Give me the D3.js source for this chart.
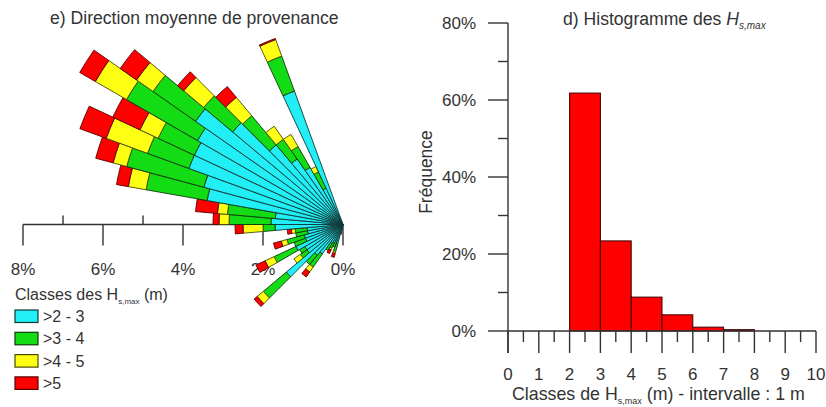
<!DOCTYPE html>
<html><head><meta charset="utf-8">
<script src="https://cdn.jsdelivr.net/npm/d3@7"></script>
<style>
body{margin:0;background:#fff}
text{font-family:"Liberation Sans",Arial,sans-serif;fill:#333}
</style>
</head><body>
<svg id="c" width="826" height="407"></svg>
<script>
// ---------- DATA ----------
const classLabels = [">2 - 3", ">3 - 4", ">4 - 5", ">5"];
// compass direction (deg, centre of 5° sector) of origin
const directions = [192.5,197.5,202.5,207.5,212.5,217.5,222.5,227.5,232.5,237.5,
                    242.5,247.5,252.5,257.5,262.5,267.5,272.5,277.5,282.5,287.5,
                    292.5,297.5,302.5,307.5,312.5,317.5,322.5,327.5,332.5,337.5];
// frequency (%) per class and direction
const cyanVals   = [0.25,0.5,0.45,0.5,0.55,0.9,1.0,1.85,1.1,1.1, 1.3,1.0,1.0,0.9,0.9,1.7,1.8,1.7,3.45,3.6, 4.1,4.1,4.2,4.5,3.6,2.6,2.0,1.65,1.0,3.55];
const greenVals  = [0,0.2,0.15,0.15,0.2,0.4,0.3,0.75,0.2,0.15, 0.6,0.3,0.45,0.3,0.3,0.3,1.05,1.2,1.55,2.0, 1.1,1.0,2.05,1.3,0.95,0.95,0.6,0.6,0.45,0.93];
const yellowVals = [0,0.05,0,0.05,0,0.15,0,0.2,0.2,0, 0.25,0,0.15,0,0.1,0.5,0.25,0.25,0.45,0.35, 1.1,0.5,0.9,0.5,0.65,0.6,0.4,0.35,0.15,0.44];
const redVals    = [0,0.1,0,0.1,0,0.15,0,0.1,0,0, 0.25,0,0.2,0,0.1,0.2,0.15,0.55,0.3,0.45, 0.7,0.75,0.45,0.5,0.2,0.35,0,0,0,0.03];
const roseTicks = [0,1,2,3,4,5,6,7,8];
const roseLabels = [0,2,4,6,8];

const histClasses = [2,3,4,5,6,7];
const histFreq = [61.8,23.4,8.8,4.2,1.0,0.35];
const histYTicks = [0,20,40,60,80];
const histYMinor = [10,30,50,70];
const histXTicks = [0,1,2,3,4,5,6,7,8,9,10];
const histXMinor = [0.5,1.5,2.5,3.5,4.5,5.5,6.5,7.5,8.5,9.5];

// ---------- STYLE ----------
const fills = ["#22eef5","#14dc14","#ffff14","#ff0000"];
const strokes = ["#103838","#0c3a0c","#4a4a00","#5a0000"];
const svg = d3.select("#c");
const axisCol = "#333";

// ---------- ROSE ----------
const cx = 343, cy = 224.5;
const r = d3.scaleLinear().domain([0,8]).range([0,320]);

svg.append("text").attr("x",50).attr("y",24).attr("font-size",17.6)
  .text("e) Direction moyenne de provenance");

// axis
const ax = svg.append("g");
ax.append("line").attr("x1",cx-r(8)).attr("x2",cx-r(0)).attr("y1",cy).attr("y2",cy)
  .attr("stroke",axisCol).attr("stroke-width",1.4);
ax.selectAll(".rt").data(roseTicks).enter().append("line")
  .attr("x1",d=>cx-r(d)).attr("x2",d=>cx-r(d))
  .attr("y1",cy).attr("y2",d=>d%2===0?cy+21:cy-9)
  .attr("stroke",axisCol).attr("stroke-width",1.4);
ax.selectAll(".rl").data(roseLabels).enter().append("text")
  .attr("x",d=>cx-r(d)).attr("y",275).attr("text-anchor","middle").attr("font-size",17)
  .text(d=>d+"%");

// bars
const arc = d3.arc();
const seriesVals = [cyanVals, greenVals, yellowVals, redVals];
const gRose = svg.append("g").attr("transform",`translate(${cx},${cy})`);
directions.forEach((dir,i)=>{
  let cum = 0;
  seriesVals.forEach((vals,k)=>{
    const v = vals[i];
    if (v<=0) return;
    gRose.append("path")
      .attr("d", arc({innerRadius:r(cum), outerRadius:r(cum+v),
        startAngle:(dir-2.5)*Math.PI/180, endAngle:(dir+2.5)*Math.PI/180}))
      .attr("fill",fills[k]).attr("stroke",strokes[k]).attr("stroke-width",0.9)
      .attr("stroke-linejoin","round");
    cum += v;
  });
});

// legend
const lt = svg.append("text").attr("x",15).attr("y",300).attr("font-size",16);
lt.append("tspan").text("Classes des H");
lt.append("tspan").attr("font-size",8).attr("dy",4).text("s,max");
lt.append("tspan").attr("dy",-4).text(" (m)");
const lg = svg.append("g");
classLabels.forEach((lab,k)=>{
  const y0 = 310 + k*22.3;
  lg.append("rect").attr("x",15).attr("y",y0).attr("width",23).attr("height",12.5)
    .attr("fill",fills[k]).attr("stroke",strokes[k]).attr("stroke-width",1.2);
  lg.append("text").attr("x",43).attr("y",y0+12).attr("font-size",16).text(lab);
});

// ---------- HISTOGRAM ----------
const x = d3.scaleLinear().domain([0,10]).range([508,816]);
const y = d3.scaleLinear().domain([0,80]).range([331,23]);

const ht = svg.append("text").attr("x",563).attr("y",25).attr("font-size",17.6);
ht.append("tspan").text("d) Histogramme des ");
ht.append("tspan").attr("font-style","italic").text("H");
ht.append("tspan").attr("font-style","italic").attr("font-size",10).attr("dy",4).text("s,max");

svg.selectAll(".hb").data(histClasses).enter().append("rect")
  .attr("x",d=>x(d)).attr("width",d=>x(d+1)-x(d))
  .attr("y",(d,i)=>y(histFreq[i])).attr("height",(d,i)=>y(0)-y(histFreq[i]))
  .attr("fill","#ff0000").attr("stroke","#3a0000").attr("stroke-width",1);

const hg = svg.append("g");
// y axis
hg.append("line").attr("x1",x(0)).attr("x2",x(0)).attr("y1",y(80)).attr("y2",y(0)+22)
  .attr("stroke",axisCol).attr("stroke-width",1.4);
hg.selectAll(".yt").data(histYTicks).enter().append("line")
  .attr("x1",x(0)-20).attr("x2",x(0)).attr("y1",d=>y(d)).attr("y2",d=>y(d))
  .attr("stroke",axisCol).attr("stroke-width",1.4);
hg.selectAll(".ym").data(histYMinor).enter().append("line")
  .attr("x1",x(0)-10).attr("x2",x(0)).attr("y1",d=>y(d)).attr("y2",d=>y(d))
  .attr("stroke",axisCol).attr("stroke-width",1.4);
hg.selectAll(".yl").data(histYTicks).enter().append("text")
  .attr("x",476).attr("y",d=>y(d)+6).attr("text-anchor","end").attr("font-size",17)
  .text(d=>d+"%");
// x axis
hg.append("line").attr("x1",x(0)).attr("x2",x(10)).attr("y1",y(0)).attr("y2",y(0))
  .attr("stroke",axisCol).attr("stroke-width",1.4);
hg.selectAll(".xt").data(histXTicks).enter().append("line")
  .attr("x1",d=>x(d)).attr("x2",d=>x(d)).attr("y1",y(0)).attr("y2",y(0)+22)
  .attr("stroke",axisCol).attr("stroke-width",1.4);
hg.selectAll(".xm").data(histXMinor).enter().append("line")
  .attr("x1",d=>x(d)).attr("x2",d=>x(d)).attr("y1",y(0)).attr("y2",y(0)+11)
  .attr("stroke",axisCol).attr("stroke-width",1.4);
hg.selectAll(".xl").data(histXTicks).enter().append("text")
  .attr("x",d=>x(d)).attr("y",380).attr("text-anchor","middle").attr("font-size",17)
  .text(d=>d);

svg.append("text").attr("transform","translate(432,172) rotate(-90)")
  .attr("text-anchor","middle").attr("font-size",17.5).text("Fréquence");

const xt = svg.append("text").attr("x",512).attr("y",400).attr("font-size",17.8);
xt.append("tspan").text("Classes de H");
xt.append("tspan").attr("font-size",9).attr("dy",4).text("s,max");
xt.append("tspan").attr("dy",-4).text(" (m) - intervalle : 1 m");
</script>
</body></html>
